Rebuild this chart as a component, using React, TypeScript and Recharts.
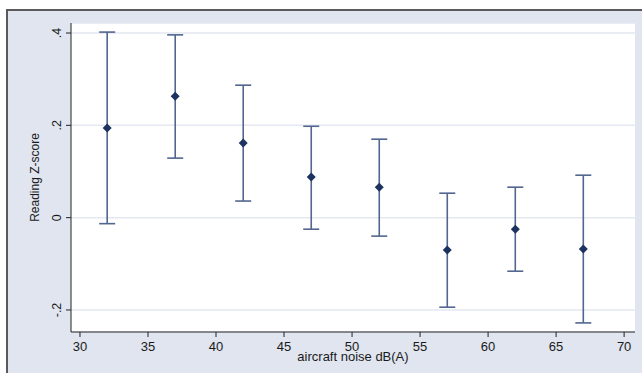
import React from 'react';
import { ComposedChart, Scatter, XAxis, YAxis, CartesianGrid, ErrorBar, Label } from 'recharts';

const noiseLevels = [32, 37, 42, 47, 52, 57, 62, 67];
const zScores = [0.194, 0.263, 0.162, 0.088, 0.066, -0.07, -0.025, -0.068];
const ciLower = [-0.013, 0.129, 0.036, -0.025, -0.04, -0.194, -0.116, -0.228];
const ciUpper = [0.402, 0.396, 0.287, 0.198, 0.170, 0.053, 0.066, 0.092];
const xTicks = [30, 35, 40, 45, 50, 55, 60, 65, 70];
const yTicks = [-0.2, 0, 0.2, 0.4];
const yTickLabels = ['-.2', '0', '.2', '.4'];

const data = noiseLevels.map((x, i) => ({
  x,
  y: zScores[i],
  err: [zScores[i] - ciLower[i], ciUpper[i] - zScores[i]],
}));

const FONT = '"Liberation Sans", Arial, sans-serif';
const TEXT = '#1a1a1a';

const Diamond = (props: any) => {
  const { cx, cy } = props;
  const r = 4.5;
  return (
    <path
      d={`M${cx},${cy - r}L${cx + r},${cy}L${cx},${cy + r}L${cx - r},${cy}Z`}
      fill="#1c335f"
    />
  );
};

const YTick = (props: any) => {
  const { x, y, payload } = props;
  const idx = yTicks.indexOf(payload.value);
  const label = idx >= 0 ? yTickLabels[idx] : String(payload.value);
  const tx = x - 3;
  return (
    <text
      x={tx}
      y={y}
      transform={`rotate(-90, ${tx}, ${y})`}
      textAnchor="middle"
      fontFamily={FONT}
      fontSize={12.5}
      fill={TEXT}
    >
      {label}
    </text>
  );
};

export default function App() {
  return (
    <div style={{ position: 'fixed', left: 0, top: 0, width: 642, height: 373, background: '#fff', overflow: 'hidden' }}>
      <div
        style={{
          position: 'absolute',
          left: 6,
          top: 9,
          width: 700,
          height: 400,
          background: '#e0e5ef',
          borderTop: '2px solid #5a5a5a',
          borderLeft: '2px solid #5a5a5a',
        }}
      />
      <div style={{ position: 'absolute', left: 0, top: 0 }}>
        <ComposedChart
          width={642}
          height={373}
          data={data}
          margin={{ top: 23, right: 7, bottom: 0, left: 0 }}
        >
          <CartesianGrid vertical={false} stroke="#e3e8f1" strokeWidth={1.5} fill="#ffffff" />
          <XAxis
            type="number"
            dataKey="x"
            domain={[29.34, 70.8]}
            ticks={xTicks}
            allowDataOverflow
            height={41}
            tickSize={5}
            tickMargin={5}
            stroke="#222"
            tick={{ fontFamily: FONT, fontSize: 13, fill: TEXT }}
          >
            <Label
              content={(p: any) => {
                const vb = p.viewBox;
                return (
                  <text
                    x={vb.x + vb.width / 2}
                    y={vb.y + 29}
                    textAnchor="middle"
                    fontFamily={FONT}
                    fontSize={13}
                    fill={TEXT}
                  >
                    aircraft noise dB(A)
                  </text>
                );
              }}
            />
          </XAxis>
          <YAxis
            type="number"
            dataKey="y"
            domain={[-0.2477, 0.4217]}
            ticks={yTicks}
            allowDataOverflow
            width={71}
            tickSize={5}
            tickMargin={2}
            stroke="#222"
            tick={<YTick />}
          >
            <Label
              content={(p: any) => {
                const vb = p.viewBox;
                const lx = vb.x + 39;
                const ly = vb.y + vb.height / 2;
                return (
                  <text
                    x={lx}
                    y={ly}
                    transform={`rotate(-90, ${lx}, ${ly})`}
                    textAnchor="middle"
                    fontFamily={FONT}
                    fontSize={12}
                    fill={TEXT}
                  >
                    Reading Z-score
                  </text>
                );
              }}
            />
          </YAxis>
          <Scatter dataKey="y" shape={<Diamond />} isAnimationActive={false}>
            <ErrorBar dataKey="err" direction="y" width={8} stroke="#52668f" strokeWidth={1.6} />
          </Scatter>
        </ComposedChart>
      </div>
    </div>
  );
}
